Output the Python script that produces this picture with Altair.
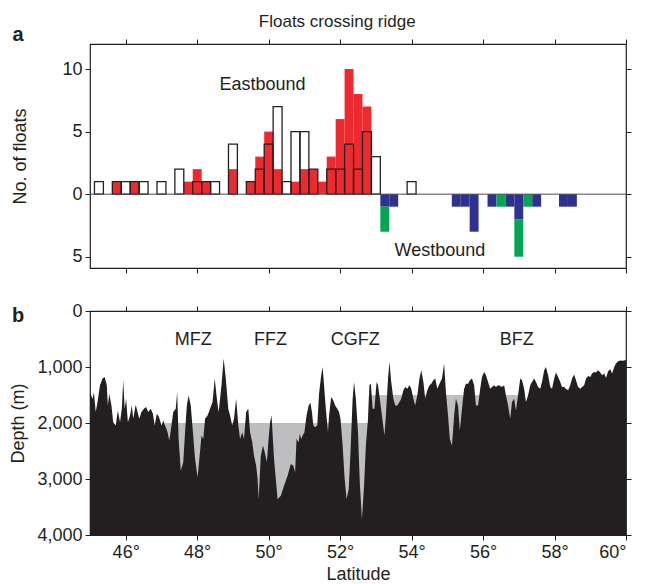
import altair as alt
import pandas as pd

FONT = "Liberation Sans"
INK = "#231f20"
RED = "#ed2a2f"
BLUE = "#2e3192"
GREEN = "#00a651"
GREY = "#bcbec0"

# ---------------- panel a: floats crossing the ridge (0.25 deg bins, bin centres) ----------------
east_lat = [45.25, 45.5, 45.75, 46.0, 46.25, 46.5, 46.75, 47.0, 47.25, 47.5,
            47.75, 48.0, 48.25, 48.5, 48.75, 49.0, 49.25, 49.5, 49.75, 50.0,
            50.25, 50.5, 50.75, 51.0, 51.25, 51.5, 51.75, 52.0, 52.25, 52.5,
            52.75, 53.0, 53.25, 53.5, 53.75, 54.0]
east_red = [0, 0, 1, 0, 1, 0, 0, 0, 0, 0,
            1, 2, 1, 0, 0, 2, 0, 1, 3, 5,
            2, 0, 1, 2, 2, 1, 3, 6, 10, 8,
            7, 0, 0, 0, 0, 0]
east_open = [1, 0, 1, 1, 1, 1, 0, 1, 0, 2,
             0, 1, 1, 1, 0, 4, 0, 1, 2, 4,
             7, 1, 5, 5, 2, 0, 2, 2, 4, 2,
             5, 3, 0, 0, 0, 1]
west_lat = [53.25, 53.5, 55.25, 55.5, 55.75, 56.25, 56.5, 56.75, 57.0, 57.25, 57.5, 58.25, 58.5]
west_blue = [1, 1, 1, 1, 3, 1, 0, 1, 2, 0, 1, 1, 1]
west_green = [2, 0, 0, 0, 0, 0, 1, 0, 3, 1, 0, 0, 0]

a_labels = ["Eastbound", "Westbound"]
a_label_lat = [49.83, 54.79]
a_label_count = [8.75, -4.57]

# ---------------- panel b: bathymetry along the ridge ----------------
profile_lat = [
    45.00, 45.07, 45.11, 45.16, 45.21, 45.28, 45.35, 45.41, 45.47, 45.50,
    45.54, 45.60, 45.65, 45.72, 45.78, 45.84, 45.89, 45.93, 45.97, 46.01,
    46.06, 46.12, 46.17, 46.21, 46.28, 46.33, 46.38, 46.44, 46.51, 46.57,
    46.63, 46.70, 46.76, 46.81, 46.87, 46.93, 47.00, 47.05, 47.12, 47.17,
    47.22, 47.28, 47.33, 47.40, 47.44, 47.48, 47.54, 47.61, 47.66, 47.71,
    47.76, 47.82, 47.88, 47.94, 48.01, 48.06, 48.12, 48.17, 48.22, 48.29,
    48.36, 48.43, 48.49, 48.55, 48.60, 48.68, 48.74, 48.80, 48.87, 48.92,
    48.98, 49.03, 49.09, 49.15, 49.20, 49.26, 49.31, 49.37, 49.43, 49.48,
    49.54, 49.59, 49.65, 49.69, 49.72, 49.78, 49.84, 49.89, 49.95, 49.99,
    50.04, 50.08,
    50.15, 50.25, 50.34, 50.43, 50.53, 50.62, 50.69, 50.74, 50.78, 50.84,
    50.87, 50.91, 50.95, 51.00, 51.06, 51.12, 51.17, 51.21, 51.25, 51.30,
    51.36, 51.41, 51.47, 51.51, 51.55, 51.60, 51.66, 51.69, 51.75, 51.81,
    51.86, 51.92, 51.97, 52.01, 52.07, 52.12, 52.18, 52.24, 52.29, 52.35,
    52.39, 52.44, 52.50, 52.55, 52.61, 52.67, 52.72, 52.78, 52.82, 52.86,
    52.91, 52.96, 53.02, 53.06, 53.11, 53.17, 53.24, 53.28, 53.34, 53.38,
    53.43, 53.49, 53.54, 53.60, 53.66, 53.71, 53.77, 53.82, 53.88, 53.94,
    53.99, 54.05, 54.10, 54.16, 54.22, 54.27, 54.33, 54.38, 54.44, 54.50,
    54.55, 54.61, 54.66, 54.72,
    54.78, 54.85, 54.91, 54.96, 55.02, 55.07, 55.13, 55.19, 55.24, 55.30,
    55.35, 55.41, 55.47, 55.52, 55.58, 55.63, 55.69, 55.75, 55.80, 55.86,
    55.92, 55.97, 56.03, 56.08, 56.14, 56.20, 56.25, 56.31, 56.36, 56.42,
    56.48, 56.53, 56.59, 56.64, 56.70, 56.76, 56.81, 56.87, 56.92, 56.98,
    57.04, 57.09, 57.15, 57.20, 57.26, 57.32, 57.37, 57.43, 57.48, 57.54,
    57.60, 57.65, 57.71, 57.76, 57.82, 57.88, 57.93, 57.99, 58.04, 58.10,
    58.16, 58.21, 58.27, 58.32, 58.38, 58.44, 58.49, 58.55, 58.60, 58.66,
    58.72, 58.77, 58.83, 58.88, 58.94, 59.00, 59.05, 59.11, 59.16, 59.22,
    59.28, 59.33, 59.39, 59.44, 59.50, 59.56, 59.61, 59.67, 59.72, 59.78,
    59.84, 59.91, 59.97, 60.00,
]
profile_depth = [
    1450, 1570, 1450, 1805, 1626, 1327, 1207, 1177, 1327, 1686,
    1476, 1686, 1985, 2044, 1775, 1985, 1745, 1237, 1745, 1566,
    1985, 1865, 1686, 1925, 1674, 1805, 1925, 1805, 1745, 1716,
    1805, 1745, 1835, 2044, 1835, 1895, 2044, 1955, 2074, 2164,
    2314, 2044, 1805, 1745, 1446, 2284, 2852, 2702, 2164, 1686,
    1506, 1686, 2164, 2642, 2971, 2642, 2224, 2284, 1925, 1865,
    1745, 1626, 1207, 1566, 1805, 1327, 848, 1207, 1745, 1865,
    2044, 1925, 1566, 2044, 2284, 2164, 2284, 1805, 1745, 2164,
    2343, 2583, 2762, 3001, 3360, 2583, 2403, 2523, 2702, 2343,
    1985, 1865,
    2642, 3360, 3300, 3121, 2941, 2732, 2762, 2882, 2284, 2343,
    2194, 2284, 2224, 2164, 1865, 1686, 1638, 1805, 2044, 2074,
    2044, 1476, 1147, 998, 1327, 1745, 2164, 1865, 1536, 1596,
    1686, 1745, 1805, 1925, 2403, 2941, 3360, 3181, 2523, 1566,
    1267, 1566, 2164, 3061, 3719, 3121, 2403, 1925, 1327, 1297,
    1745, 1745, 1267, 1327, 1566, 1865, 2224, 1865, 1207, 908,
    1267, 1566, 1686, 1686, 1626, 1566, 1417, 1357, 1387, 1327,
    1387, 1566, 1686, 1506, 1207, 1058, 1267, 1566, 1417, 1327,
    1297, 1237, 1207, 1387,
    1297, 1207, 938, 1446, 1865, 2284, 2403, 1865, 1566, 1686,
    2134, 1745, 1387, 1297, 1297, 1237, 1207, 1327, 1686, 1686,
    1387, 1177, 1088, 1147, 1267, 1387, 1357, 1327, 1357, 1327,
    1339, 1357, 1327, 1506, 1686, 1925, 1626, 1566, 1775, 1506,
    1207, 1237, 1387, 1626, 1506, 1327, 1267, 1207, 1267, 1357,
    1387, 1267, 1058, 998, 1147, 1357, 1387, 1207, 1100, 1177,
    1267, 1357, 1357, 1387, 1417, 1327, 1207, 1135, 1237, 1357,
    1387, 1357, 1327, 1207, 1159, 1177, 1118, 1088, 1100, 1058,
    1100, 1147, 1118, 1195, 1076, 1040, 1118, 998, 938, 896,
    884, 890, 878, 878,
]
assert len(profile_lat) == len(profile_depth), (len(profile_lat), len(profile_depth))

grey_start = [47.1, 52.8]
grey_end = [52.8, 57.0]
grey_level = [2000, 1500]

b_labels = ["MFZ", "FFZ", "CGFZ", "BFZ"]
b_label_lat = [47.89, 50.05, 52.42, 56.94]
b_label_depth = [520, 520, 520, 520]

lat_ticks = [46, 48, 50, 52, 54, 56, 58, 60]

W, H = 536, 224

# ---------------- build panel a ----------------
east = pd.DataFrame({"lat": east_lat, "red": east_red, "open": east_open})
west = pd.DataFrame({"lat": west_lat, "blue": west_blue, "green": west_green})
a_text = pd.DataFrame({"label": a_labels, "lat": a_label_lat, "count": a_label_count})

xa = alt.Scale(domain=[45, 60], nice=False, zero=False)
ya = alt.Scale(domain=[-5.9, 12], nice=False, zero=False)

def bins(chart):
    return chart.transform_calculate(x0="datum.lat - 0.125", x1="datum.lat + 0.125")

red_bars = bins(alt.Chart(east)).transform_filter("datum.red > 0").mark_rect(color=RED).encode(
    x=alt.X("x0:Q", scale=xa, axis=alt.Axis(orient="bottom", values=lat_ticks, labels=False, title=None)),
    x2="x1:Q",
    y=alt.Y("red:Q", scale=ya, axis=alt.Axis(orient="left", values=[-5, 0, 5, 10],
                                             labelExpr="abs(datum.value)", title="No. of floats",
                                             titleX=-65, titleY=H / 2, titleBaseline="alphabetic",
                                             titleAlign="center", titleAngle=270)),
    y2=alt.datum(0),
)
open_bars = bins(alt.Chart(east)).transform_filter("datum.open > 0").mark_rect(
    fillOpacity=0, stroke=INK, strokeWidth=1.3).encode(
    x=alt.X("x0:Q", scale=xa, axis=alt.Axis(orient="top", values=lat_ticks, labels=False, title=None)),
    x2="x1:Q",
    y=alt.Y("open:Q", scale=ya, axis=alt.Axis(orient="right", values=[-5, 0, 5, 10], labels=False, title=None)),
    y2=alt.datum(0),
)
blue_bars = bins(alt.Chart(west)).transform_filter("datum.blue > 0").transform_calculate(
    b="-datum.blue").mark_rect(color=BLUE).encode(
    x=alt.X("x0:Q", scale=xa, axis=None), x2="x1:Q",
    y=alt.Y("b:Q", scale=ya, axis=None), y2=alt.datum(0),
)
green_bars = bins(alt.Chart(west)).transform_filter("datum.green > 0").transform_calculate(
    g0="-datum.blue", g1="-(datum.blue + datum.green)").mark_rect(color=GREEN).encode(
    x=alt.X("x0:Q", scale=xa, axis=None), x2="x1:Q",
    y=alt.Y("g1:Q", scale=ya, axis=None), y2="g0:Q",
)
zero_line = alt.Chart(pd.DataFrame({"v": [0]})).mark_rule(color="#4d4d4f", strokeWidth=1).encode(
    y=alt.Y("v:Q", scale=ya, axis=None))
a_words = alt.Chart(a_text).mark_text(font=FONT, fontSize=18, color=INK).encode(
    x=alt.X("lat:Q", scale=xa, axis=None), y=alt.Y("count:Q", scale=ya, axis=None), text="label:N")
a_tag = alt.Chart(pd.DataFrame({"t": ["a"]})).mark_text(
    font=FONT, fontSize=20, fontWeight="bold", color=INK, align="center", baseline="alphabetic").encode(
    x=alt.value(-72), y=alt.value(-3), text="t:N")

panel_a = alt.layer(red_bars, open_bars, blue_bars, green_bars, zero_line, a_words, a_tag).resolve_axis(
    x="independent", y="independent").properties(width=W, height=H)

# ---------------- build panel b ----------------
profile = pd.DataFrame({"lat": profile_lat, "depth": profile_depth})
grey = pd.DataFrame({"x0": grey_start, "x1": grey_end, "level": grey_level})
b_text = pd.DataFrame({"label": b_labels, "lat": b_label_lat, "depth": b_label_depth})

xb = alt.Scale(domain=[45, 60], nice=False, zero=False)
yb = alt.Scale(domain=[0, 4000], nice=False, zero=False, reverse=True)

grey_fill = alt.Chart(grey).mark_rect(color=GREY).encode(
    x=alt.X("x0:Q", scale=xb, axis=alt.Axis(orient="bottom", values=lat_ticks,
                                            labelExpr="datum.value + '°'", title="Latitude",
                                            titlePadding=4)),
    x2="x1:Q",
    y=alt.Y("level:Q", scale=yb, axis=alt.Axis(orient="left", values=[0, 1000, 2000, 3000, 4000],
                                               labelExpr="format(datum.value, ',')", title="Depth (m)",
                                               titleX=-67, titleY=H / 2, titleBaseline="alphabetic",
                                               titleAlign="center", titleAngle=270)),
    y2=alt.datum(4000),
)
ridge = alt.Chart(profile).mark_area(color=INK, interpolate="linear").encode(
    x=alt.X("lat:Q", scale=xb, axis=alt.Axis(orient="top", values=lat_ticks, labels=False, title=None)),
    y=alt.Y("depth:Q", scale=yb, axis=alt.Axis(orient="right", values=[0, 1000, 2000, 3000, 4000],
                                               labels=False, title=None)),
    y2=alt.datum(4000),
)
b_words = alt.Chart(b_text).mark_text(font=FONT, fontSize=18, color=INK).encode(
    x=alt.X("lat:Q", scale=xb, axis=None), y=alt.Y("depth:Q", scale=yb, axis=None), text="label:N")
b_tag = alt.Chart(pd.DataFrame({"t": ["b"]})).mark_text(
    font=FONT, fontSize=20, fontWeight="bold", color=INK, align="center", baseline="alphabetic").encode(
    x=alt.value(-72), y=alt.value(11), text="t:N")

panel_b = alt.layer(grey_fill, ridge, b_words, b_tag).resolve_axis(
    x="independent", y="independent").properties(width=W, height=H)

chart = alt.vconcat(panel_a, panel_b, spacing=26).properties(
    title=alt.TitleParams("Floats crossing ridge", font=FONT, fontSize=17, fontWeight="normal",
                          color=INK, anchor="middle", offset=-7, dx=17),
    padding={"left": 0, "top": 5, "right": 5, "bottom": 5},
).configure_view(stroke=INK, strokeWidth=1.2).configure_axis(
    labelFont=FONT, titleFont=FONT, labelFontSize=18, titleFontSize=18, labelColor=INK,
    titleColor=INK, titleFontWeight="normal", tickColor=INK, tickSize=5, tickWidth=1,
    domain=False, grid=False, labelPadding=3,
).configure_concat(spacing=26)

chart.save("out.html", embed_options={"renderer": "svg", "actions": False})
